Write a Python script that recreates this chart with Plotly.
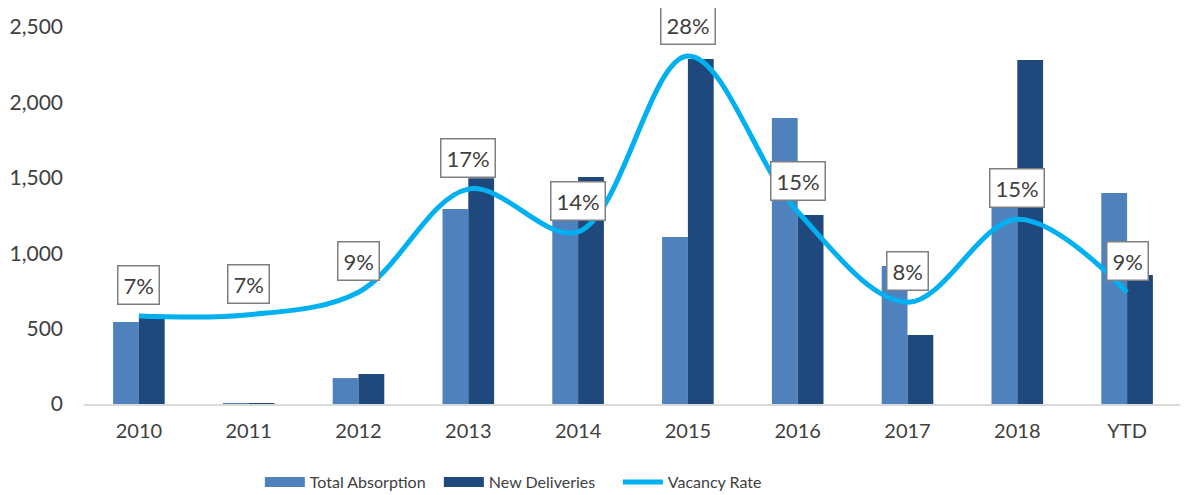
import plotly.graph_objects as go

categories = ["2010", "2011", "2012", "2013", "2014", "2015", "2016", "2017", "2018", "YTD"]
total_absorption = [544, 3, 172, 1293, 1263, 1107, 1897, 915, 1320, 1399]
new_deliveries = [575, 6, 199, 1497, 1505, 2288, 1253, 458, 2281, 855]
vacancy_rate = [0.070, 0.071, 0.089, 0.171, 0.137, 0.277, 0.153, 0.081, 0.147, 0.089]
vacancy_labels = ["7%", "7%", "9%", "17%", "14%", "28%", "15%", "8%", "15%", "9%"]

x_pos = list(range(len(categories)))

FONT = "Lato, 'Open Sans', sans-serif"
TXT = "#404040"
C_TA = "#4F81BD"
C_ND = "#1F497D"
C_VR = "#00B0F0"

fig = go.Figure()
fig.add_trace(go.Bar(x=x_pos, y=total_absorption, name="Total Absorption",
                     marker=dict(color=C_TA, line=dict(width=0)), showlegend=False))
fig.add_trace(go.Bar(x=x_pos, y=new_deliveries, name="New Deliveries",
                     marker=dict(color=C_ND, line=dict(width=0)), showlegend=False))
fig.add_trace(go.Scatter(x=x_pos, y=vacancy_rate, name="Vacancy Rate", yaxis="y2",
                         mode="lines", line=dict(color=C_VR, width=5, shape="spline", smoothing=1),
                         showlegend=False))

# legend entries (wide swatches like the reference)
for name, col, w in [("Total Absorption", C_TA, 16), ("New Deliveries", C_ND, 16), ("Vacancy Rate", C_VR, 5)]:
    fig.add_trace(go.Scatter(x=[None], y=[None], name=name, mode="lines",
                             line=dict(color=col, width=w), showlegend=True))

for xp, v, t in zip(x_pos, vacancy_rate, vacancy_labels):
    fig.add_annotation(x=xp, y=v, xref="x", yref="y2", text=t, showarrow=False, yshift=31,
                       font=dict(family=FONT, size=22, color=TXT),
                       bgcolor="white", bordercolor="#7F7F7F", borderwidth=1.5, borderpad=5)

fig.update_layout(
    width=1188, height=495,
    margin=dict(l=76, r=14, t=19, b=99, autoexpand=False),
    paper_bgcolor="white", plot_bgcolor="white",
    barmode="group", bargap=0.53, bargroupgap=0,
    font=dict(family=FONT, color=TXT),
    xaxis=dict(range=[-0.5, len(categories) - 0.5], tickvals=x_pos, ticktext=categories,
               showgrid=False, zeroline=False, showline=True, linecolor="#D9D9D9", linewidth=2,
               ticks="", tickfont=dict(size=20, color=TXT), ticklabelstandoff=8),
    yaxis=dict(range=[0, 2500], tickvals=[0, 500, 1000, 1500, 2000, 2500],
               tickformat=",", showgrid=False, zeroline=False, showline=False,
               tickfont=dict(size=21, color=TXT), ticklabelstandoff=20),
    yaxis2=dict(range=[0, 0.30], overlaying="y", side="right", visible=False),
    legend=dict(orientation="h", xref="container", yref="container",
                x=0.212, xanchor="left", y=0.042, yanchor="middle",
                font=dict(size=16, color=TXT), itemwidth=40, entrywidth=124,
                traceorder="normal"),
    showlegend=True,
)

fig.write_html("out.html")
